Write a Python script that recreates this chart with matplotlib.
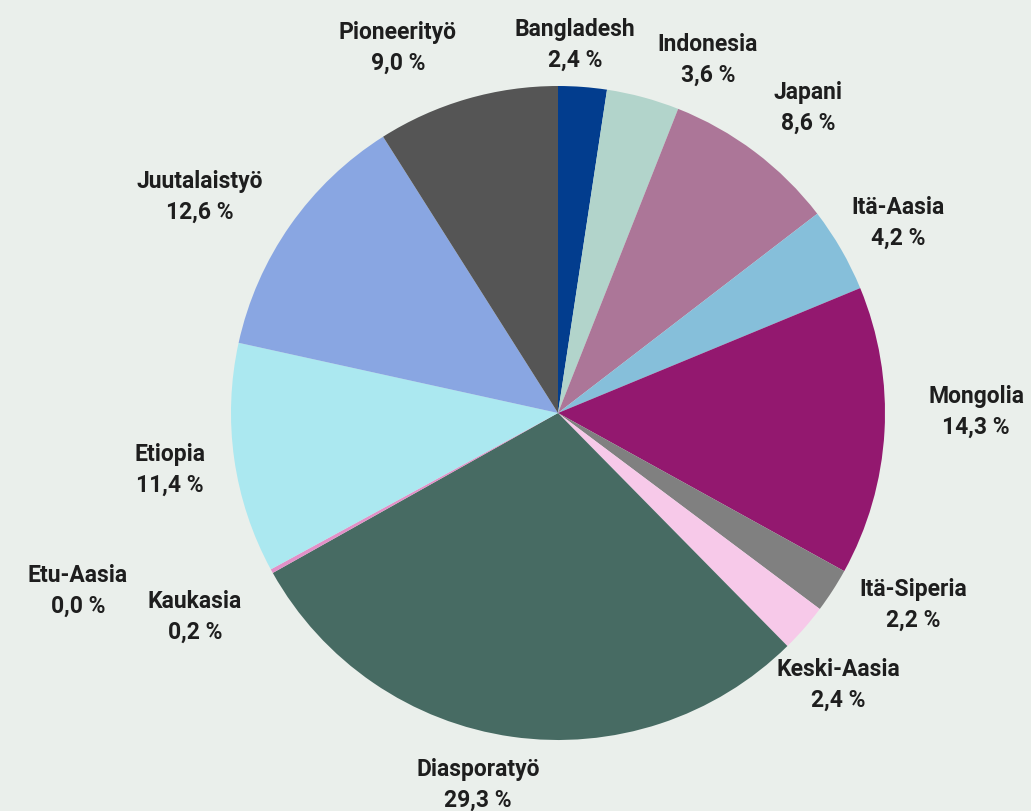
import matplotlib
matplotlib.use("Agg")
import matplotlib.pyplot as plt

labels = ["Bangladesh", "Indonesia", "Japani", "Itä-Aasia", "Mongolia", "Itä-Siperia",
          "Keski-Aasia", "Diasporatyö", "Kaukasia", "Etu-Aasia", "Etiopia",
          "Juutalaistyö", "Pioneerityö"]
shares = [2.4, 3.6, 8.6, 4.2, 14.3, 2.2, 2.4, 29.3, 0.2, 0.0, 11.4, 12.6, 9.0]
colors = ["#023D8E", "#B2D4CB", "#AC7698", "#86BFDA", "#93186F", "#808080",
          "#F7C9E9", "#476B63", "#E390C8", "#E390C8", "#ABE8F0", "#89A6E2", "#555555"]

# label centres in pixel space (figure is 1031 x 811, y measured from the top)
label_pos = [(575, 45), (708, 60), (808, 108), (898, 223), (976, 412), (913, 605),
             (838, 685), (478, 785), (195, 617), (78, 591), (170, 470), (200, 197),
             (398, 48)]

W, H = 1031, 811
fig = plt.figure(figsize=(W / 100, H / 100), dpi=100)
fig.patch.set_facecolor("#EAEFEB")
ax = fig.add_axes([0, 0, 1, 1])

cx, cy, r = 558, H - 413, 327
ax.pie(shares, colors=colors, startangle=90, counterclock=False,
       center=(cx, cy), radius=r, frame=True,
       wedgeprops=dict(linewidth=0))
ax.set_xlim(0, W)
ax.set_ylim(0, H)
ax.set_aspect("equal")
ax.axis("off")

font = ["Roboto", "DejaVu Sans"]
for name, val, (x, y) in zip(labels, shares, label_pos):
    txt = f"{name}\n{val:.1f} %".replace(".", ",")
    ax.text(x, H - y, txt, ha="center", va="center", fontsize=16.5,
            fontweight="bold", family=font, color="#1e1e1e", linespacing=1.4)

fig.savefig("out.png", dpi=100, facecolor=fig.get_facecolor())
